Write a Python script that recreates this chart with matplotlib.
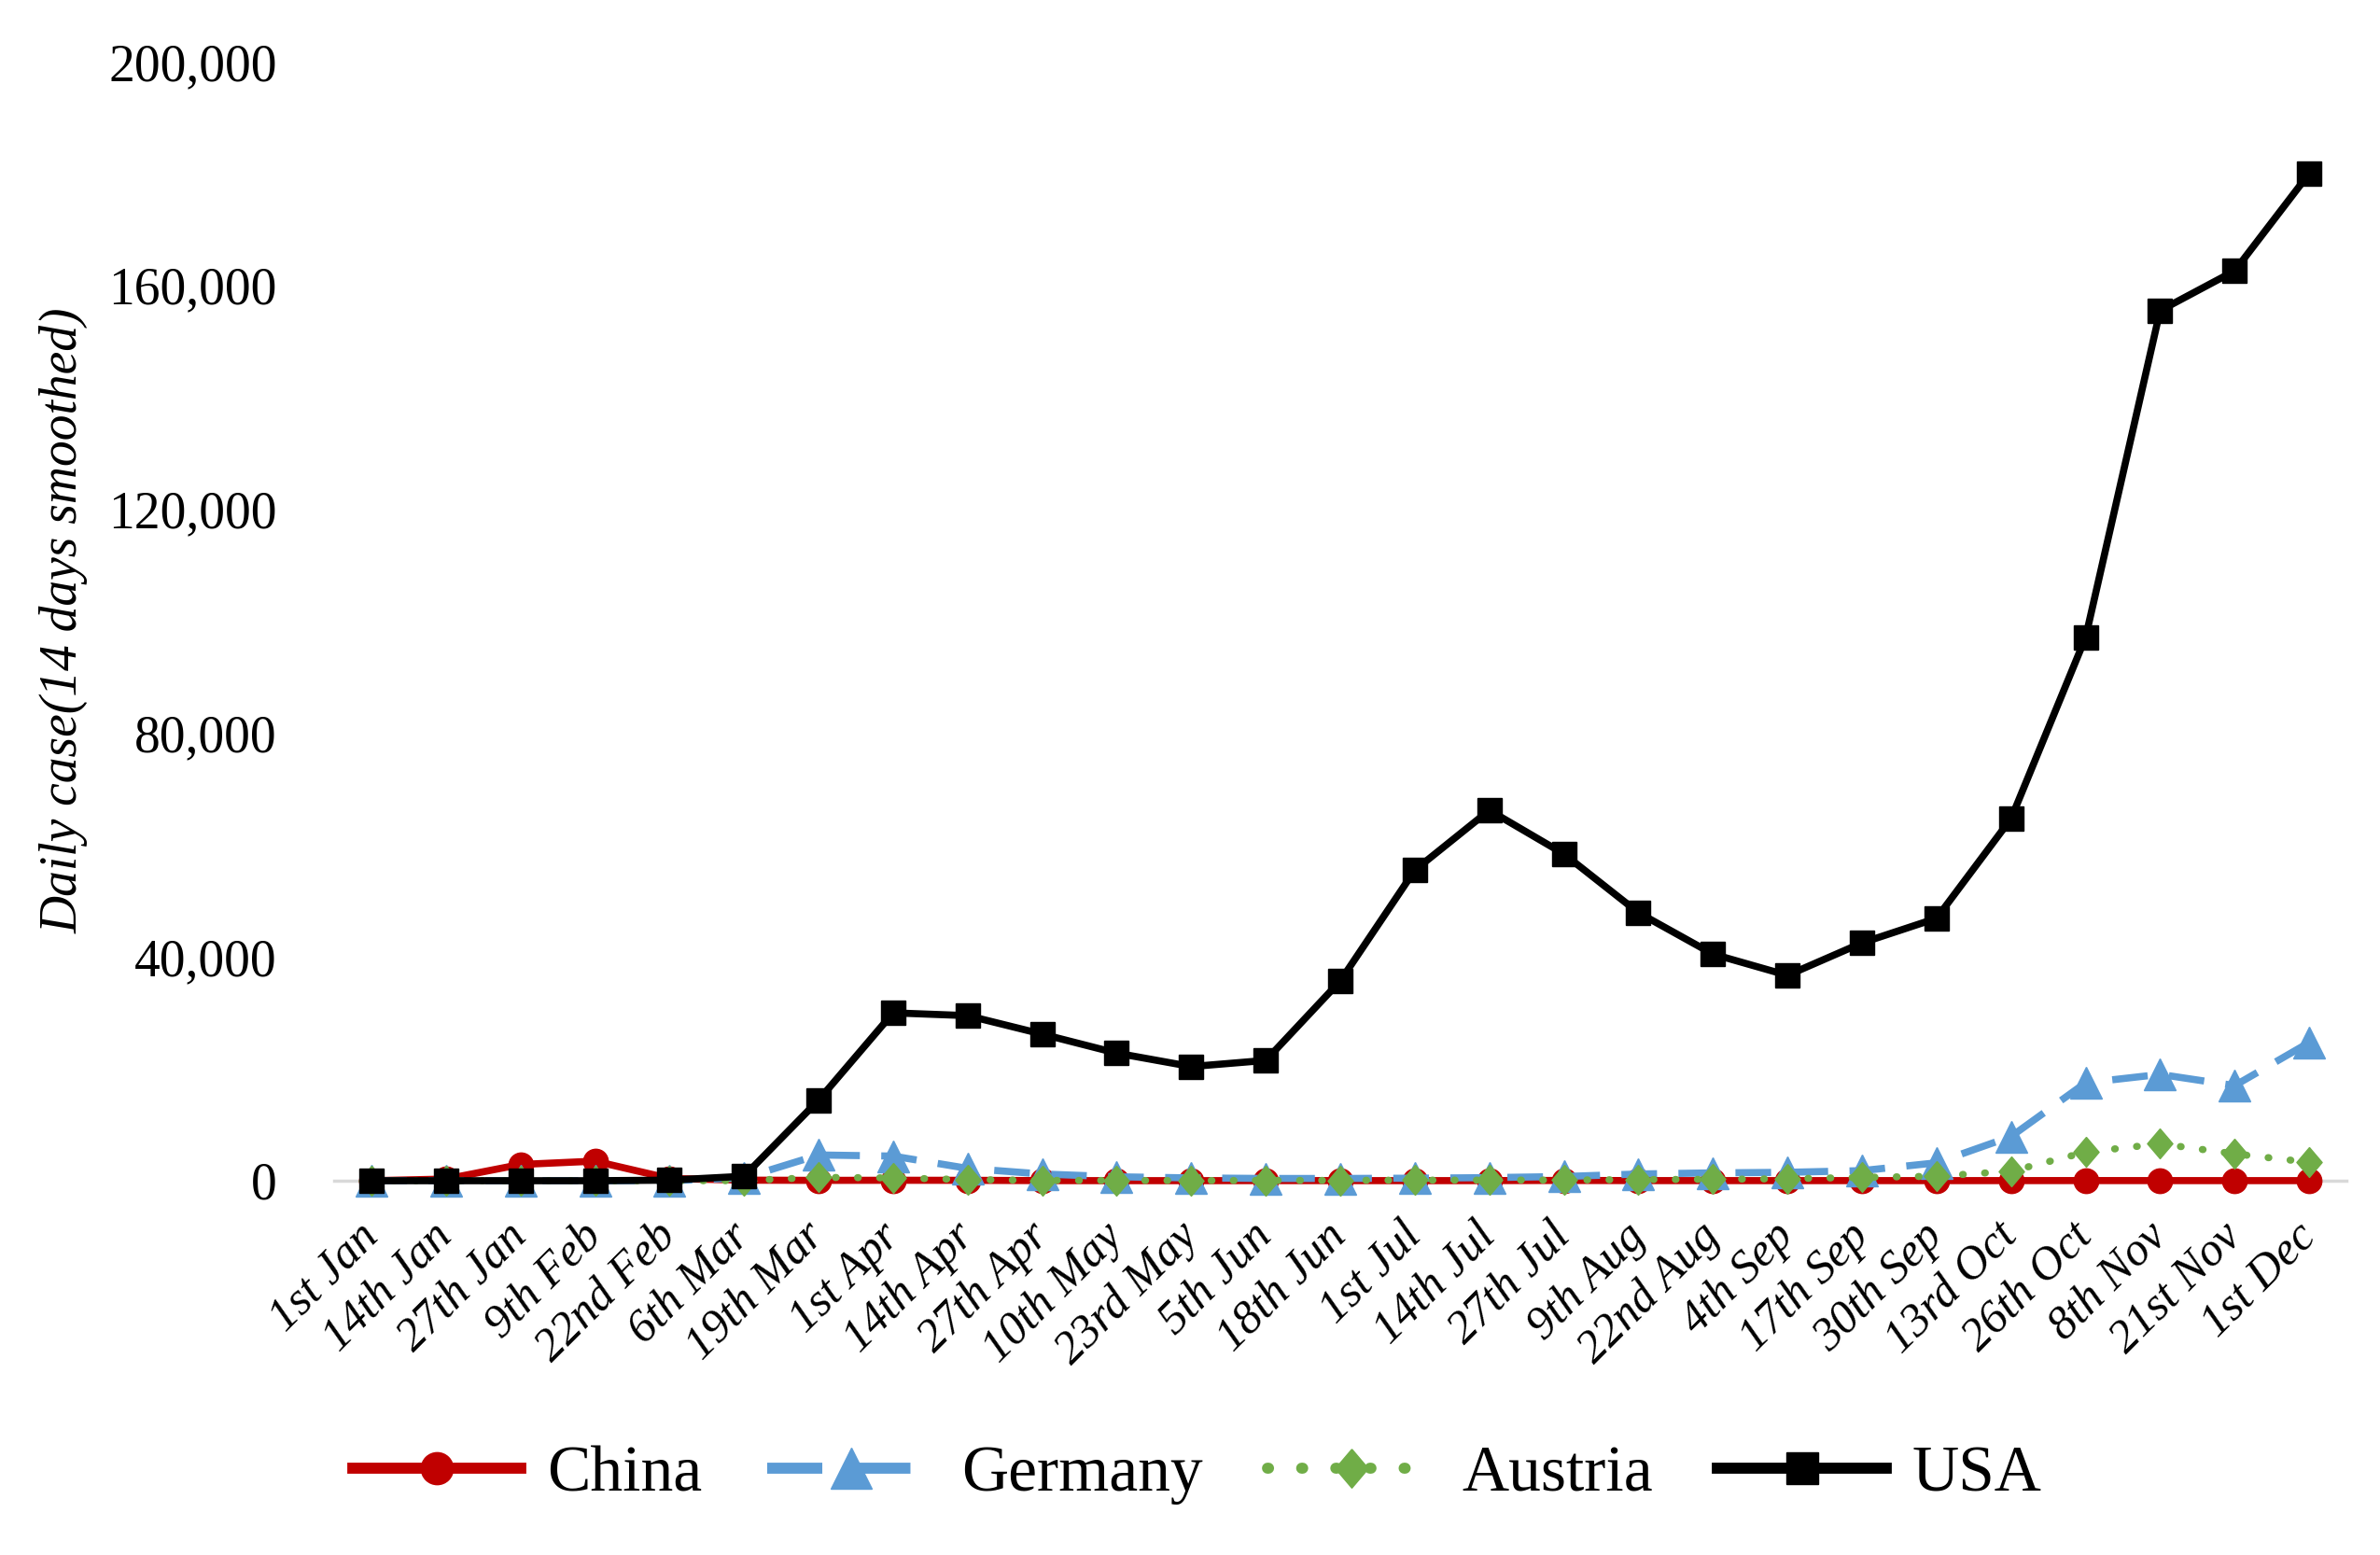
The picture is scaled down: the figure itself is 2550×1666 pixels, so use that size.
import matplotlib
matplotlib.use('Agg')
import matplotlib.pyplot as plt
from matplotlib.ticker import FuncFormatter


dates = ['1st Jan', '14th Jan', '27th Jan', '9th Feb', '22nd Feb', '6th Mar',
         '19th Mar', '1st Apr', '14th Apr', '27th Apr', '10th May', '23rd May',
         '5th Jun', '18th Jun', '1st Jul', '14th Jul', '27th Jul', '9th Aug',
         '22nd Aug', '4th Sep', '17th Sep', '30th Sep', '13rd Oct', '26th Oct',
         '8th Nov', '21st Nov', '1st Dec']

# daily cases, 14 days smoothed
china = [0, 300, 2900, 3500, 400, 100, 60, 80, 70, 20, 10, 10, 20, 20,
         10, 20, 50, 20, 20, 15, 20, 15, 20, 25, 20, 15, 15]
germany = [0, 0, 0, 0, 0, 500, 4600, 4400, 2200, 1200, 700, 500, 400, 400,
           450, 550, 750, 1200, 1400, 1500, 1800, 3200, 7900, 17500, 19000, 17000, 24700]
austria = [0, 0, 0, 0, 0, 10, 600, 500, 200, 60, 40, 30, 40, 60,
           100, 110, 120, 200, 250, 350, 600, 800, 1700, 5100, 6600, 4800, 3300]
usa = [0, 0, 0, 0, 100, 800, 14400, 30000, 29500, 26200, 22800, 20400, 21500, 35700,
       55500, 66200, 58400, 47900, 40500, 36700, 42500, 46900, 64700, 97100, 155500, 162600, 180000]

yticks = [0, 40000, 80000, 120000, 160000, 200000]

serif = 'Liberation Serif'
x = list(range(len(dates)))

# a diamond a bit taller than wide, like the Excel marker
diamond = [(0, 1), (0.85, 0), (0, -1), (-0.85, 0), (0, 1)]

fig = plt.figure(figsize=(25.5, 16.66), dpi=100)
ax = fig.add_axes([0.1404, 0.2407, 0.8455, 0.7197])

ax.plot(x, china, color='#C00000', lw=5.5, marker='o', ms=19, mec='#C00000',
        label='China', clip_on=False)
ax.plot(x, germany, color='#5B9BD5', lw=5.5, ls=(0, (5, 3)), marker='^', ms=24,
        mec='#5B9BD5', label='Germany', clip_on=False)
ax.plot(x, austria, color='#70AD47', lw=5.5, ls=(0, (0.1, 3)), dash_capstyle='round',
        marker=diamond, ms=23, mec='#70AD47', label='Austria', clip_on=False)
ax.plot(x, usa, color='black', lw=5.5, marker='s', ms=19, mec='black',
        label='USA', clip_on=False)

ax.set_xlim(-0.5, len(dates) - 0.5)
ax.set_ylim(0, 200000)
ax.set_yticks(yticks)
ax.yaxis.set_major_formatter(FuncFormatter(lambda v, p: f'{int(v):,}'))
ax.set_xticks(x)
ax.set_xticklabels(dates, rotation=45, ha='right', va='center', rotation_mode='anchor',
                   fontsize=36, fontstyle='italic', family=serif)
for lab in ax.get_yticklabels():
    lab.set_family(serif)
    lab.set_fontsize(40)
ax.tick_params(axis='both', length=0)
ax.tick_params(axis='x', pad=38)
ax.tick_params(axis='y', pad=44)

for s in ['top', 'right', 'left']:
    ax.spines[s].set_visible(False)
ax.spines['bottom'].set_color('#D9D9D9')
ax.spines['bottom'].set_linewidth(2.5)
ax.spines['bottom'].set_zorder(0)

fig.text(0.0267, 0.601, 'Daily case(14 days smoothed)', rotation=90, ha='center',
         va='center', fontsize=40, fontstyle='italic', family=serif)

leg = fig.legend(loc='center', bbox_to_anchor=(0.503, 0.0515), ncol=4, frameon=False,
                 prop={'family': serif, 'size': 50}, handlelength=2.6, handletextpad=0.4,
                 columnspacing=1.0, numpoints=1, markerscale=1.3)
for line in leg.get_lines():
    line.set_linewidth(8.5)

fig.savefig('out.png', dpi=100)
